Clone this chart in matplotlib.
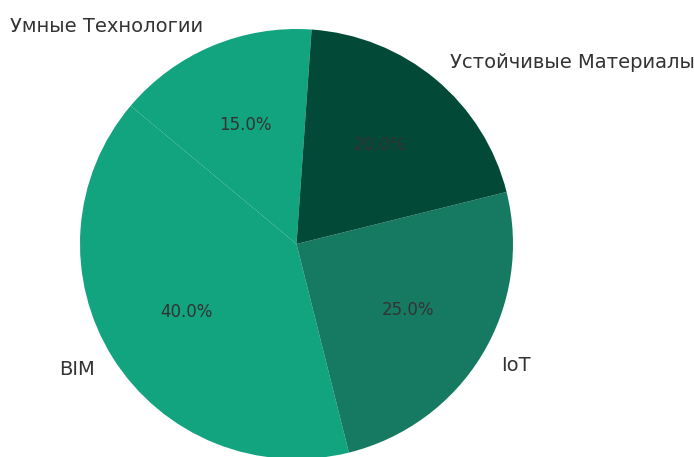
import matplotlib
matplotlib.use("Agg")
import matplotlib.pyplot as plt

# Доля направлений (в процентах)
labels = ['Умные Технологии', 'BIM', 'IoT', 'Устойчивые Материалы']
shares = [15, 40, 25, 20]
colors = ['#12a37f', '#12a37f', '#167a62', '#024a37']

fig = plt.figure(figsize=(6.94, 4.57), dpi=100)
ax = fig.add_axes([80 / 694, -2 / 457, 433 / 694, 430 / 457])

wedges, texts, autotexts = ax.pie(
    shares,
    labels=labels,
    colors=colors,
    autopct='%1.1f%%',
    startangle=86,
    textprops={'color': '#333333', 'fontsize': 14},
)
for t in autotexts:
    t.set_fontsize(12)

ax.set_aspect('auto')
ax.set_xlim(-1, 1)
ax.set_ylim(-1, 1)

fig.savefig('out.png', dpi=100)
